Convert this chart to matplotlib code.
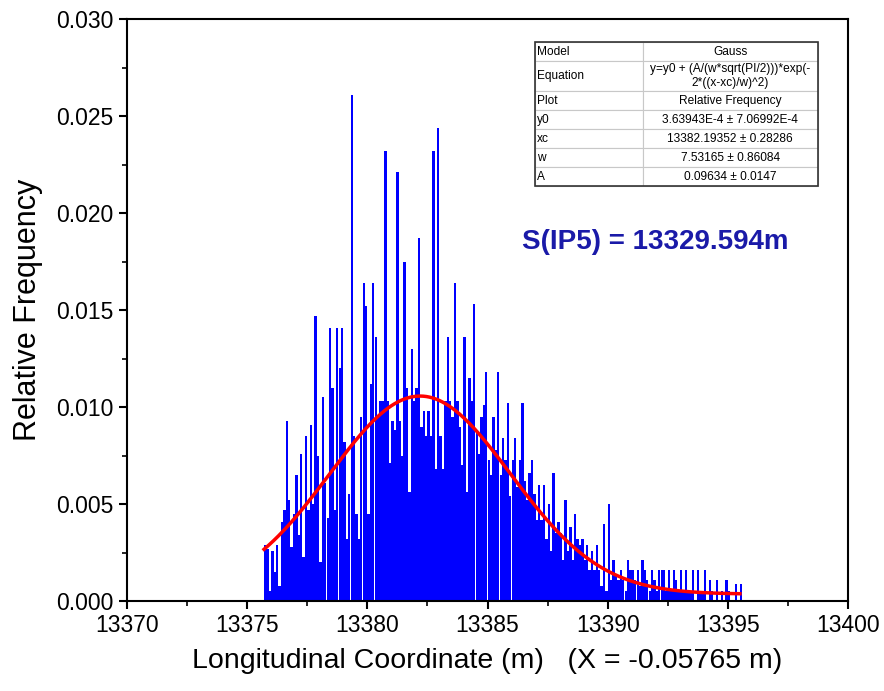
import matplotlib
matplotlib.use('Agg')
import matplotlib.pyplot as plt
from matplotlib.ticker import MultipleLocator
import numpy as np

plt.rcParams['font.family'] = ['Liberation Sans', 'DejaVu Sans']

# histogram: bin left edges start at 13375.7, width 0.1; heights in 1e-3
bin_start = 13375.7
bin_width = 0.1
heights = [
    2.9, 2.7, 0.5,
    2.6, 1.5, 2.9, 0.8, 4.1, 4.7, 9.3, 5.2, 2.8, 4.5,
    6.5, 3.4, 7.6, 2.3, 8.5, 4.7, 9.1, 5.0, 14.7, 7.5,
    2.0, 10.5, 6.1, 4.3, 14.1, 11.0, 4.7, 14.1, 12.0, 14.1,
    8.2, 3.2, 5.5, 26.1, 8.5, 4.5, 3.2, 9.5, 16.4, 15.2,
    4.5, 11.2, 16.4, 13.6, 9.6, 10.3, 10.3, 23.2, 10.3, 7.1,
    9.3, 8.8, 22.1, 9.3, 7.5, 17.5, 11.0, 5.6, 13.0, 10.3,
    11.0, 18.7, 9.0, 9.8, 8.5, 9.8, 8.5, 23.2, 6.8, 24.4,
    8.5, 6.8, 10.3, 13.6, 10.3, 9.5, 16.4, 10.3, 9.0, 7.0,
    13.6, 5.6, 11.5, 10.3, 15.3, 8.8, 7.6, 9.5, 10.1, 11.8,
    7.3, 6.5, 9.5, 7.8, 11.8, 6.5, 8.4, 7.3, 10.2, 5.4,
    7.3, 8.4, 5.9, 7.3, 10.2, 6.2, 5.2, 6.6, 7.3, 5.5,
    4.2, 6.0, 4.2, 6.0, 3.2, 5.0, 2.6, 6.6, 3.5, 4.1,
    3.5, 2.1, 5.2, 2.6, 3.8, 2.1, 4.5, 3.2, 2.9, 3.2,
    2.1, 2.9, 1.6, 2.6, 1.6, 2.9, 1.6, 0.8, 4.0, 0.5,
    5.0, 1.1, 2.1, 1.4, 1.1, 1.6, 1.1, 0.5, 2.1, 1.6,
    1.6, 1.1, 1.6, 0.8, 2.1, 1.6, 1.1, 0.5, 1.6, 1.1,
    0.5, 1.6, 1.6, 1.6, 0.5, 1.6, 0.5, 1.6, 1.1, 0.5,
    1.6, 0.5, 1.6, 0.5, 0.5, 1.6, 0.0, 1.6, 0.5, 0.5,
    1.6, 0.0, 1.1, 0.5, 0.0, 1.1, 0.0, 0.5, 0.0, 1.1,
    0.5, 0.0, 0.0, 0.9, 0.0, 0.9,
]

# Gauss fit parameters
y0 = 3.63943e-4
xc = 13382.19352
w = 7.53165
A = 0.09634
fit_range = (13375.7, 13395.5)

table_rows = [
    ['Model', 'Gauss'],
    ['Equation', 'y=y0 + (A/(w*sqrt(PI/2)))*exp(-\n2*((x-xc)/w)^2)'],
    ['Plot', 'Relative Frequency'],
    ['y0', '3.63943E-4 \u00b1 7.06992E-4'],
    ['xc', '13382.19352 \u00b1 0.28286'],
    ['w', '7.53165 \u00b1 0.86084'],
    ['A', '0.09634 \u00b1 0.0147'],
]

fig = plt.figure(figsize=(8.84, 6.91), dpi=100)
ax = fig.add_axes([0.1437, 0.130, 0.8156, 0.8425])

h = np.array(heights) * 1e-3
lefts = bin_start + bin_width * np.arange(len(h))
ax.bar(lefts, h, width=bin_width * 0.97, align='edge', color='#0000ff',
       edgecolor='none')

xs = np.linspace(fit_range[0], fit_range[1], 300)
ys = y0 + (A / (w * np.sqrt(np.pi / 2))) * np.exp(-2 * ((xs - xc) / w) ** 2)
ax.plot(xs, ys, color='red', lw=2.5)

ax.set_xlim(13370, 13400)
ax.set_ylim(0, 0.030)
ax.xaxis.set_major_locator(MultipleLocator(5))
ax.xaxis.set_minor_locator(MultipleLocator(2.5))
ax.yaxis.set_major_locator(MultipleLocator(0.005))
ax.yaxis.set_minor_locator(MultipleLocator(0.0025))
ax.yaxis.set_major_formatter(matplotlib.ticker.FormatStrFormatter('%.3f'))
ax.tick_params(which='major', direction='out', length=6, width=1.5, labelsize=16.5)
ax.tick_params(which='minor', direction='out', length=3.5, width=1.2)
for s in ax.spines.values():
    s.set_linewidth(1.5)

ax.set_xlabel('Longitudinal Coordinate (m)   (X = -0.05765 m)', fontsize=20.5, labelpad=8)
ax.set_ylabel('Relative Frequency', fontsize=22, labelpad=10)

ax.text(0.732, 0.617, 'S(IP5) = 13329.594m', transform=ax.transAxes,
        ha='center', va='center', fontsize=20, fontweight='bold', color='#1a1aa8')

tbl = ax.table(cellText=table_rows, colWidths=[0.38, 0.62], cellLoc='center',
               bbox=[0.566, 0.713, 0.392, 0.247])
tbl.auto_set_font_size(False)
tbl.set_fontsize(8.6)
for (r, c), cell in tbl.get_celld().items():
    cell.set_edgecolor('#c8c8c8')
    cell.set_linewidth(0.8)
    if c == 0:
        cell.set_text_props(ha='left')
        cell.PAD = 0.02
    if r == 1:
        cell.set_height(cell.get_height() * 1.6)
tbl_frame = plt.Rectangle((0.566, 0.713), 0.392, 0.247, transform=ax.transAxes,
                          fill=False, lw=1.2, ec='#333333', zorder=10)
ax.add_patch(tbl_frame)

fig.savefig('out.png', dpi=100)
